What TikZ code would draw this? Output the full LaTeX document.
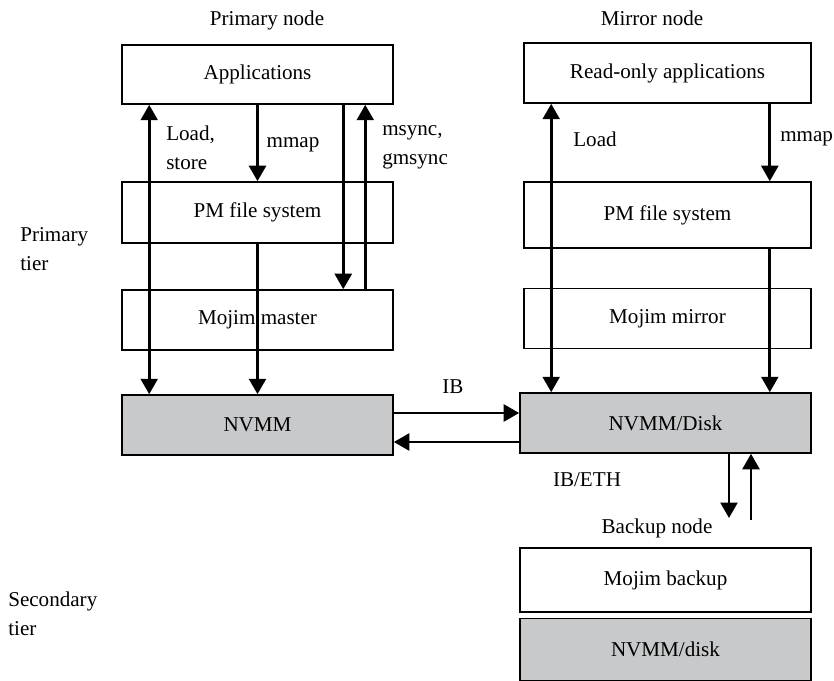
\documentclass[tikz,border=0pt]{standalone}
\usepackage{fontspec}
\setmainfont{Liberation Serif}
\usetikzlibrary{arrows.meta}
\definecolor{boxgray}{RGB}{200,201,203}
\tikzset{
  box/.style={rectangle, draw, line width=1.1pt, fill=white, minimum height=1.5cm},
  arr/.style={line width=2pt, -{Triangle[width=12pt,length=11pt]}},
  dbl/.style={line width=2pt, {Triangle[width=12pt,length=11pt]}-{Triangle[width=12pt,length=11pt]}},
  lbl/.style={inner sep=0pt, align=left}
}
\begin{document}
\begin{tikzpicture}[x=0.025cm, y=-0.025cm, font=\fontsize{15}{20.5}\selectfont]
      \useasboundingbox (0,0) rectangle (834,681);
      \node[box, minimum width=6.775cm, minimum height=1.475cm] (apps) at (257.5,74.5) {Applications};
      \node[box, minimum width=6.775cm, minimum height=1.525cm] (pmA) at (257.5,212.5) {PM file system};
      \node[box, minimum width=6.775cm] (master) at (257.5,320) {Mojim master};
      \node[box, minimum width=6.775cm, fill=boxgray] (nvmm) at (257.5,425) {NVMM};
      \node[box, minimum width=7.175cm] (roapps) at (667.5,73) {Read-only applications};
      \node[box, minimum width=7.175cm, minimum height=1.65cm] (pmB) at (667.5,215) {PM file system};
      \node[box, minimum width=7.175cm] (mirror) at (667.5,318.5) {Mojim mirror};
      \node[box, minimum width=7.275cm, fill=boxgray] (disk) at (665.5,423) {NVMM/Disk};
      \node[box, minimum width=7.275cm, minimum height=1.6cm] (backup) at (665.5,580) {Mojim backup};
      \node[box, minimum width=7.275cm, minimum height=1.55cm, fill=boxgray] (nvmmdisk) at (665.5,649.5) {NVMM/disk};
      \coordinate (ethdown) at (729,518);
      \coordinate (ethup) at (751,520);
      % primary node
      \draw[dbl] ([xshift=0.7cm]apps.south west) -- ([xshift=0.7cm]apps.south west |- nvmm.north);
      \draw[arr] (apps.south) -- (pmA.north);
      \draw[arr] (pmA.south) -- (nvmm.north);
      \draw[arr] ([xshift=5.55cm]apps.south west) -- ([xshift=5.55cm]apps.south west |- master.north);
      \draw[arr] ([xshift=6.1cm]master.north west) -- ([xshift=6.1cm]master.north west |- apps.south);
      % mirror node
      \draw[dbl] ([xshift=0.7cm]roapps.south west) -- ([xshift=0.7cm]roapps.south west |- disk.north);
      \draw[arr] ([xshift=-1.05cm]roapps.south east) -- ([xshift=-1.05cm]roapps.south east |- pmB.north);
      \draw[arr] ([xshift=-1.05cm]pmB.south east) -- ([xshift=-1.05cm]pmB.south east |- disk.north);
      % links
      \draw[arr] ([yshift=0.3cm]nvmm.east) -- ([yshift=0.3cm]nvmm.east -| disk.west);
      \draw[arr] ([yshift=-0.425cm]nvmm.east -| disk.west) -- ([yshift=-0.425cm]nvmm.east);
      \draw[arr] (disk.south -| ethdown) -- (ethdown);
      \draw[arr] (ethup) -- (ethup |- disk.south);
      % labels
      \node[lbl] (primnode) at (267,20) {Primary node};
      \node[lbl] (mirrnode) at (652,18) {Mirror node};
      \node[lbl, anchor=west] (loadstore) at (166,147.5) {Load,\\store};
      \node[lbl] (mmapA) at (293,145) {mmap};
      \node[lbl, anchor=west] (msync) at (382,147.5) {msync,\\gmsync};
      \node[lbl] (loadB) at (595,139) {Load};
      \node[lbl, anchor=west] (mmapB) at (780,139) {mmap};
      \node[lbl] (ib) at (453,387) {IB};
      \node[lbl] (ibeth) at (587,480) {IB/ETH};
      \node[lbl] (bknode) at (657,528) {Backup node};
      \node[lbl, anchor=west] (primtier) at (20,249) {Primary\\tier};
      \node[lbl, anchor=west] (sectier) at (8,614) {Secondary\\tier};
\end{tikzpicture}
\end{document}
